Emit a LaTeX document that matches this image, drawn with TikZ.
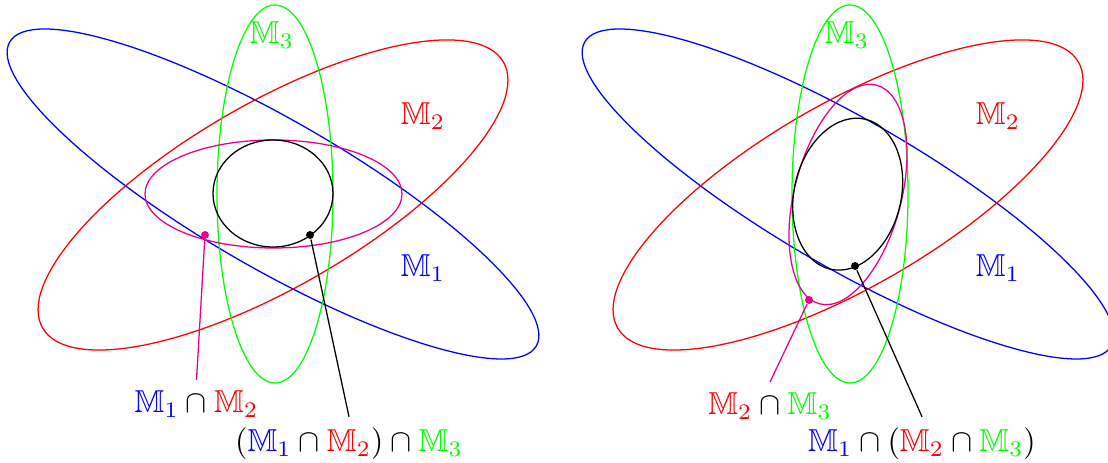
\documentclass[tikz,border=0pt]{standalone}
\usepackage{amssymb}
\definecolor{magcol}{RGB}{232,0,140}
\begin{document}
\begin{tikzpicture}[x=0.3155pt,y=0.3155pt,
  setline/.style={line width=0.4pt},
  dotnode/.style={circle,fill,inner sep=0pt,minimum size=2.5pt},
  setlabel/.style={anchor=base,inner sep=3.33pt},
  lead/.style={line width=0.4pt}]
\useasboundingbox (0,0) rectangle (1108,463);
% ---------- left panel ----------
\draw[setline,blue,rotate around={-30:(273,269)}] (273,269) ellipse [x radius=304,y radius=74];
\draw[setline,red,rotate around={30:(273,268)}] (273,268) ellipse [x radius=266,y radius=92];
\draw[setline,green] (275,269) ellipse [x radius=58,y radius=189];
\draw[setline,magcol] (273.5,269) ellipse [x radius=128.5,y radius=54];
\draw[setline,black] (273,269.5) ellipse [x radius=60,y radius=53.5];
\node[setlabel,green] (l3) at (272,419) {$\mathbb{M}_3$};
\node[setlabel,red] (l2) at (423,338) {$\mathbb{M}_2$};
\node[setlabel,blue] (l1) at (423,186.3) {$\mathbb{M}_1$};
\node[dotnode,magcol] (ld1) at (205,228) {};
\node[dotnode,black] (ld2) at (310,228) {};
\node[setlabel] (la) at (196.5,50) {$\color{blue}\mathbb{M}_1\color{black}\cap\color{red}\mathbb{M}_2$};
\node[setlabel] (lb) at (349,11.3) {$(\color{blue}\mathbb{M}_1\color{black}\cap\color{red}\mathbb{M}_2\color{black})\cap\color{green}\mathbb{M}_3$};
\draw[lead,magcol] (ld1) -- (la.north);
\draw[lead,black] (ld2) -- (lb.north);
% ---------- right panel ----------
\draw[setline,blue,rotate around={-30:(848,269)}] (848,269) ellipse [x radius=304,y radius=74];
\draw[setline,red,rotate around={30:(848,268)}] (848,268) ellipse [x radius=266,y radius=92];
\draw[setline,green] (850,269) ellipse [x radius=58,y radius=189];
\draw[setline,magcol,rotate around={75.4:(848,268.5)}] (848,268.5) ellipse [x radius=113,y radius=53.4];
\draw[setline,black,rotate around={76.8:(847.7,268.8)}] (847.7,268.8) ellipse [x radius=77,y radius=53.5];
\node[setlabel,green] (r3) at (847,419) {$\mathbb{M}_3$};
\node[setlabel,red] (r2) at (998,338) {$\mathbb{M}_2$};
\node[setlabel,blue] (r1) at (998,186.3) {$\mathbb{M}_1$};
\node[dotnode,magcol] (rd1) at (809,163) {};
\node[dotnode,black] (rd2) at (855,197) {};
\node[setlabel] (ra) at (770,48) {$\color{red}\mathbb{M}_2\color{black}\cap\color{green}\mathbb{M}_3$};
\node[setlabel] (rb) at (922,11.3) {$\color{blue}\mathbb{M}_1\color{black}\cap(\color{red}\mathbb{M}_2\color{black}\cap\color{green}\mathbb{M}_3\color{black})$};
\draw[lead,magcol] (rd1) -- (ra.north);
\draw[lead,black] (rd2) -- (rb.north);
\end{tikzpicture}
\end{document}
